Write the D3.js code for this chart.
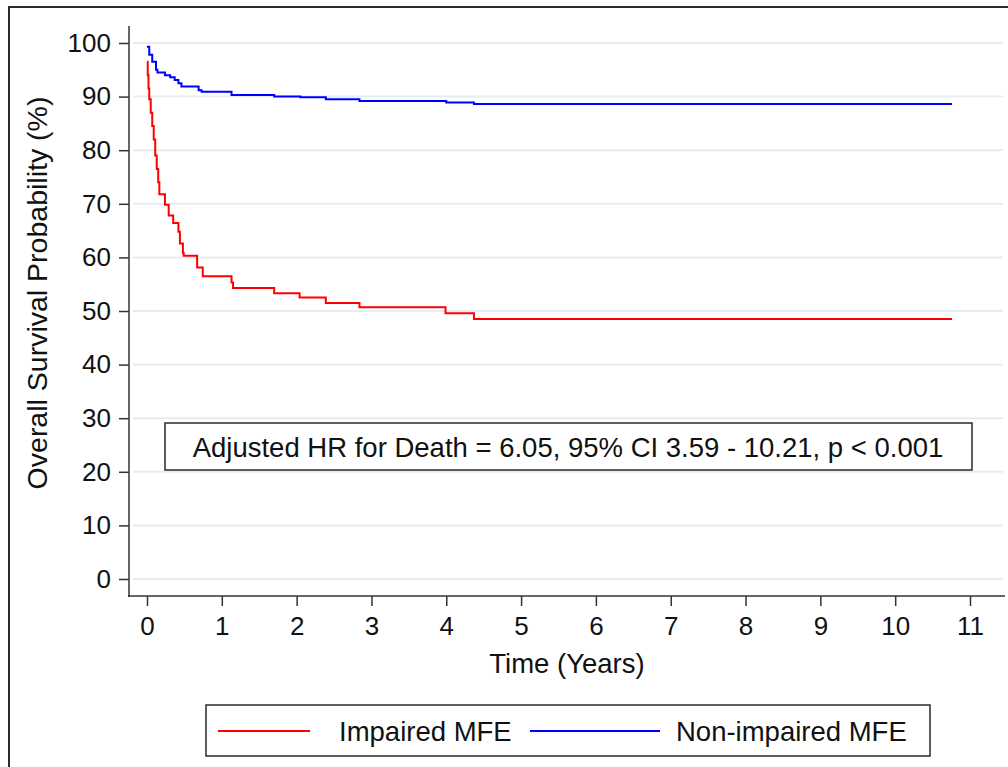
<!DOCTYPE html>
<html>
<head>
<meta charset="utf-8">
<script src="https://cdn.jsdelivr.net/npm/d3@7"></script>
<style>
  body { margin: 0; background: #fff; }
  svg { display: block; font-family: "Liberation Sans", Arial, sans-serif; }
</style>
</head>
<body>
<svg id="chart" width="1008" height="767"></svg>
<script>
// Kaplan-Meier steps: [time (years), survival %]
const impairedSteps = [
  [0, 96.5], [0.01, 94], [0.02, 91.5], [0.03, 89.5], [0.05, 87], [0.07, 84.5],
  [0.09, 82], [0.11, 79], [0.13, 76.5], [0.15, 74], [0.165, 71.8],
  [0.24, 69.8], [0.29, 67.8], [0.35, 66.4], [0.42, 64.8], [0.44, 62.6],
  [0.48, 60.8], [0.49, 60.3], [0.67, 58.1], [0.745, 56.5],
  [1.13, 55.3], [1.15, 54.3], [1.70, 53.3], [2.04, 52.5], [2.39, 51.5],
  [2.84, 50.7], [3.99, 49.6], [4.37, 48.5]
];
const nonImpairedSteps = [
  [0, 99.3], [0.03, 97.8], [0.07, 96.5], [0.12, 95.0], [0.14, 94.5],
  [0.24, 94.0], [0.31, 93.6], [0.37, 93.1], [0.42, 92.5], [0.46, 91.9],
  [0.69, 91.2], [0.73, 90.9], [1.13, 90.3], [1.70, 90.0], [2.05, 89.9],
  [2.39, 89.5], [2.84, 89.2], [4.0, 88.9], [4.37, 88.6]
];
const followUpEnd = 10.76;

const xTicks = d3.range(0, 12);
const yTicks = d3.range(0, 101, 10);
const seriesNames = ['Impaired MFE', 'Non-impaired MFE'];
const seriesColors = ['#ff0000', '#0000ff'];
const annotation = 'Adjusted HR for Death = 6.05, 95% CI 3.59 - 10.21, p < 0.001';

const svg = d3.select('#chart');

const x = d3.scaleLinear().domain([0, 11]).range([147, 970]);
const y = d3.scaleLinear().domain([0, 100]).range([579, 43]);

// outer frame (right/bottom edges run off the picture)
svg.append('rect')
  .attr('x', 9).attr('y', 7).attr('width', 1100).attr('height', 900)
  .attr('fill', 'none').attr('stroke', '#2a2a2a').attr('stroke-width', 2);

// grid
svg.append('g').selectAll('line').data(yTicks).join('line')
  .attr('x1', 133).attr('x2', 1003)
  .attr('y1', d => y(d)).attr('y2', d => y(d))
  .attr('stroke', '#e4edf1').attr('stroke-width', 2);

// axes
const yAxis = svg.append('g').attr('transform', 'translate(129,0)')
  .call(d3.axisLeft(y).tickValues(yTicks).tickSize(10).tickPadding(8));
const xAxis = svg.append('g').attr('transform', 'translate(0,596)')
  .call(d3.axisBottom(x).tickValues(xTicks).tickSize(10).tickPadding(7));

[xAxis, yAxis].forEach(g => {
  g.select('.domain').remove();
  g.selectAll('.tick line').attr('stroke', '#333').attr('stroke-width', 1.5);
  g.selectAll('.tick text').attr('font-size', 26).attr('fill', '#111')
    .attr('font-family', '"Liberation Sans", Arial, sans-serif');
});
xAxis.selectAll('.tick text').attr('dy', '0.85em');

svg.append('line').attr('x1', 129).attr('x2', 129).attr('y1', 26).attr('y2', 597)
  .attr('stroke', '#333').attr('stroke-width', 1.5);
svg.append('line').attr('x1', 128).attr('x2', 1005).attr('y1', 596).attr('y2', 596)
  .attr('stroke', '#333').attr('stroke-width', 1.5);

// survival curves
const line = d3.line().x(d => x(d[0])).y(d => y(d[1])).curve(d3.curveStepAfter);
[impairedSteps, nonImpairedSteps].forEach((steps, i) => {
  const pts = steps.concat([[followUpEnd, steps[steps.length - 1][1]]]);
  svg.append('path').datum(pts)
    .attr('d', line)
    .attr('fill', 'none')
    .attr('stroke', seriesColors[i])
    .attr('stroke-width', 2);
});

// annotation box
svg.append('rect').attr('x', 165).attr('y', 423).attr('width', 807).attr('height', 47)
  .attr('fill', '#fff').attr('stroke', '#2a2a2a').attr('stroke-width', 1.5);
svg.append('text').attr('x', 568).attr('y', 447).attr('dy', '0.35em')
  .attr('text-anchor', 'middle').attr('font-size', 27.5).attr('fill', '#111')
  .text(annotation);

// axis titles
svg.append('text').attr('x', 567).attr('y', 663).attr('dy', '0.35em')
  .attr('text-anchor', 'middle').attr('font-size', 27.5).attr('fill', '#111')
  .text('Time (Years)');
svg.append('text').attr('transform', 'translate(37,293) rotate(-90)')
  .attr('dy', '0.35em').attr('text-anchor', 'middle')
  .attr('font-size', 28.5).attr('fill', '#111')
  .text('Overall Survival Probability (%)');

// legend
svg.append('rect').attr('x', 206).attr('y', 705).attr('width', 724).attr('height', 51)
  .attr('fill', '#fff').attr('stroke', '#2a2a2a').attr('stroke-width', 1.5);
const legendX = [[218, 310, 339], [530, 660, 676]];
seriesNames.forEach((name, i) => {
  const [l1, l2, tx] = legendX[i];
  svg.append('line').attr('x1', l1).attr('x2', l2).attr('y1', 731).attr('y2', 731)
    .attr('stroke', seriesColors[i]).attr('stroke-width', 2);
  svg.append('text').attr('x', tx).attr('y', 731).attr('dy', '0.35em')
    .attr('font-size', 27.5).attr('fill', '#111').text(name);
});
</script>
</body>
</html>
